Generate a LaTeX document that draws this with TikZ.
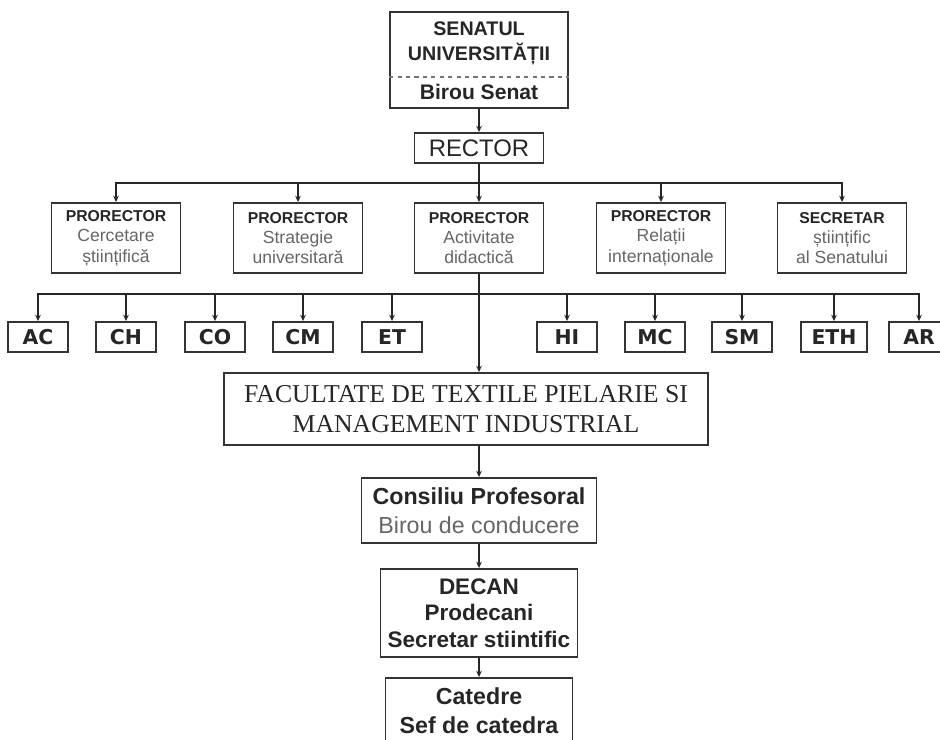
\documentclass[tikz,border=0pt]{standalone}
\usepackage{fontspec}
\setmainfont{Liberation Sans}
\newfontfamily\facfont{Liberation Serif}
\newfontfamily\codefont{DejaVu Sans}
\usetikzlibrary{arrows.meta,positioning}
\newcommand{\subtext}[1]{\textcolor{black!60}{\fontsize{12.5}{14.5}\selectfont #1}}

\begin{document}
\begin{tikzpicture}[x=0.025cm,y=-0.025cm,
  box/.style={draw=black!80,line width=1.3pt,fill=white,align=center,inner sep=0pt,text=black!85},
  lead/.style={box,minimum width=32.25mm,minimum height=17.5mm,font=\fontsize{11.2}{14.5}\selectfont},
  dept/.style={box,minimum height=7.5mm,font=\codefont\bfseries\fontsize{14.5}{16}\selectfont},
  link/.style={draw=black!85,line width=1pt},
  arr/.style={link,-{Stealth[length=4.5pt,width=4pt]}}]
\clip (0,0) rectangle (940,740);

% senat and rector
\node[box,minimum width=44.5mm,minimum height=24mm] (senat) at (479,60) {};
\node[text=black!85,align=center,font=\bfseries\fontsize{14}{18}\selectfont] (senatName) at (479,43) {SENATUL\\UNIVERSITĂȚII};
\node[text=black!85,font=\bfseries\fontsize{15}{17}\selectfont] (birou) at (479,92) {Birou Senat};
\coordinate (split) at (0,77);
\draw[dashed,draw=black!55,line width=0.8pt] (senat.west |- split) -- (senat.east |- split);
\node[box,minimum width=32.25mm,minimum height=7.5mm,font=\fontsize{17}{20}\selectfont] (rector) at (479,148) {RECTOR};

% prorectors
\node[lead] (pa) at (116,238) {\textbf{PRORECTOR}\\\subtext{Cercetare}\\\subtext{științifică}};
\node[lead] (pb) at (298,238) {\textbf{PRORECTOR}\\\subtext{Strategie}\\\subtext{universitară}};
\node[lead] (pc) at (479,238) {\textbf{PRORECTOR}\\\subtext{Activitate}\\\subtext{didactică}};
\node[lead] (pd) at (661,238) {\textbf{PRORECTOR}\\\subtext{Relații}\\\subtext{internaționale}};
\node[lead] (pe) at (842,238) {\textbf{SECRETAR}\\\subtext{științific}\\\subtext{al Senatului}};

% departments
\foreach \n/\x/\w/\t in {ac/38/15/AC,ch/126/15/CH,co/215/15/CO,cm/303/15/CM,et/392/15/ET,
                         hi/567/15/HI,mc/655/15/MC,sm/742/15/SM,eth/834/16.5/ETH,ar/919/15/AR}
  \node[dept,minimum width=\w mm] (\n) at (\x,337) {\t};

% faculty
\node[box,minimum width=121mm,minimum height=18mm,font=\facfont\fontsize{18.3}{21}\selectfont] (fac) at (466,409)
  {FACULTATE DE TEXTILE PIELARIE SI\\MANAGEMENT INDUSTRIAL};
\node[box,minimum width=58.75mm,minimum height=16.25mm,font=\fontsize{16.5}{21}\selectfont] (cons) at (479,510.5)
  {\textbf{Consiliu Profesoral}\\\textcolor{black!60}{Birou de conducere}};
\node[box,minimum width=49.25mm,minimum height=22mm,font=\bfseries\fontsize{16}{19}\selectfont] (decan) at (479,613)
  {DECAN\\Prodecani\\Secretar stiintific};
\node[box,minimum width=46.75mm,minimum height=16.5mm,font=\bfseries\fontsize{16.5}{20.5}\selectfont] (cat) at (479,711)
  {Catedre\\Sef de catedra};

% connectors
\coordinate (busA) at (479,183);
\coordinate (busB) at (479,294);
\draw[arr] (senat) -- (rector);
\draw[link] (rector.south) -- (busA);
\foreach \n in {pa,pb,pc,pd,pe}
  \draw[arr] (busA) -| (\n.north);
\foreach \n in {ac,ch,co,cm,et,hi,mc,sm,eth,ar}
  \draw[arr] (busB) -| (\n.north);
\draw[arr] (pc.south) -- (pc.south |- fac.north);
\draw[arr] (cons.north |- fac.south) -- (cons);
\draw[arr] (cons) -- (decan);
\draw[arr] (decan) -- (cat);
\end{tikzpicture}
\end{document}
